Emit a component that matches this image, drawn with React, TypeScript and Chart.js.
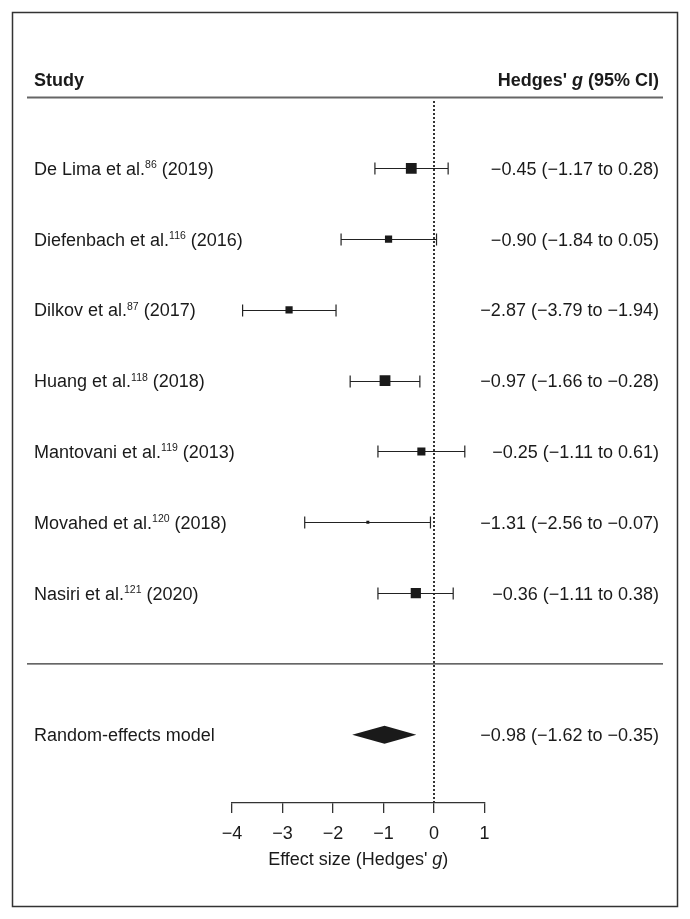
import React, { useEffect, useRef } from "react";
import { Chart, registerables } from "chart.js";

Chart.register(...registerables);

// ---------- data ----------
const studyAuthors = [
  "De Lima et al.",
  "Diefenbach et al.",
  "Dilkov et al.",
  "Huang et al.",
  "Mantovani et al.",
  "Movahed et al.",
  "Nasiri et al.",
];
const studyRefs = ["86", "116", "87", "118", "119", "120", "121"];
const studyYears = ["2019", "2016", "2017", "2018", "2013", "2018", "2020"];
const effectSizes = [-0.45, -0.9, -2.87, -0.97, -0.25, -1.31, -0.36];
const ciLower = [-1.17, -1.84, -3.79, -1.66, -1.11, -2.56, -1.11];
const ciUpper = [0.28, 0.05, -1.94, -0.28, 0.61, -0.07, 0.38];
const studyWeights = [18, 12, 12, 18, 13.5, 5, 17];

const pooledLabel = "Random-effects model";
const pooledEstimate = [-0.98];
const pooledLower = [-1.62];
const pooledUpper = [-0.35];

const xTickMin = -4;
const xTickMax = 1;
const xTickStep = 1;

// ---------- helpers ----------
const FONT = '"Liberation Sans", Arial, Helvetica, sans-serif';
const INK = "#1a1a1a";
const fmt = (v: number) => (v < 0 ? "\u2212" + Math.abs(v).toFixed(2) : v.toFixed(2));
const ciText = (g: number, lo: number, hi: number) => `${fmt(g)} (${fmt(lo)} to ${fmt(hi)})`;

const ROW_HEADER = -0.25;
const ROW_DIVIDER = 8;
const ROW_POOLED = 9;

const forestPlugin = {
  id: "forest",
  beforeDatasetsDraw(chart: any) {
    const { ctx, scales, chartArea } = chart;
    const x = scales.x;
    const y = scales.y;
    ctx.save();
    // outer frame
    ctx.strokeStyle = "#333";
    ctx.lineWidth = 1.5;
    ctx.strokeRect(12.5, 12.5, 665, 894);

    // header rule
    ctx.strokeStyle = "#666";
    ctx.lineWidth = 2;
    ctx.beginPath();
    ctx.moveTo(27, y.getPixelForValue(0));
    ctx.lineTo(663, y.getPixelForValue(0));
    ctx.stroke();

    // divider above pooled
    ctx.strokeStyle = "#333";
    ctx.lineWidth = 1.3;
    ctx.beginPath();
    ctx.moveTo(27, y.getPixelForValue(ROW_DIVIDER));
    ctx.lineTo(663, y.getPixelForValue(ROW_DIVIDER));
    ctx.stroke();

    // zero line (dotted)
    const x0 = Math.round(x.getPixelForValue(0));
    ctx.strokeStyle = "#333";
    ctx.lineWidth = 2;
    ctx.setLineDash([2, 2]);
    ctx.beginPath();
    ctx.moveTo(x0, Math.round(y.getPixelForValue(0)) + 3);
    ctx.lineTo(x0, chartArea.bottom);
    ctx.stroke();
    ctx.setLineDash([]);

    // CI whiskers
    ctx.strokeStyle = "#222";
    ctx.lineWidth = 1.2;
    effectSizes.forEach((_, i) => {
      const py = Math.round(y.getPixelForValue(i + 1)) + 0.5;
      const xl = x.getPixelForValue(ciLower[i]);
      const xr = x.getPixelForValue(ciUpper[i]);
      ctx.beginPath();
      ctx.moveTo(xl, py);
      ctx.lineTo(xr, py);
      ctx.moveTo(xl, py - 6);
      ctx.lineTo(xl, py + 6);
      ctx.moveTo(xr, py - 6);
      ctx.lineTo(xr, py + 6);
      ctx.stroke();
    });

    // pooled diamond
    const py = y.getPixelForValue(ROW_POOLED);
    ctx.fillStyle = INK;
    ctx.beginPath();
    ctx.moveTo(x.getPixelForValue(pooledLower[0]), py);
    ctx.lineTo(x.getPixelForValue(pooledEstimate[0]), py - 9);
    ctx.lineTo(x.getPixelForValue(pooledUpper[0]), py);
    ctx.lineTo(x.getPixelForValue(pooledEstimate[0]), py + 9);
    ctx.closePath();
    ctx.fill();
    ctx.restore();
  },
  afterDatasetsDraw(chart: any) {
    const { ctx, scales, chartArea } = chart;
    const y = scales.y;
    const leftX = 34;
    const rightX = 659;
    ctx.save();
    ctx.fillStyle = INK;
    ctx.textBaseline = "alphabetic";

    // header
    const hy = y.getPixelForValue(ROW_HEADER) + 6.5;
    ctx.font = `bold 18px ${FONT}`;
    ctx.textAlign = "left";
    ctx.fillText("Study", leftX, hy);
    const p1 = "Hedges' ";
    const p2 = "g";
    const p3 = " (95% CI)";
    ctx.font = `bold 18px ${FONT}`;
    const w1 = ctx.measureText(p1).width;
    const w3 = ctx.measureText(p3).width;
    ctx.font = `italic bold 18px ${FONT}`;
    const w2 = ctx.measureText(p2).width;
    let hx = rightX - (w1 + w2 + w3);
    ctx.font = `bold 18px ${FONT}`;
    ctx.fillText(p1, hx, hy);
    hx += w1;
    ctx.font = `italic bold 18px ${FONT}`;
    ctx.fillText(p2, hx, hy);
    hx += w2;
    ctx.font = `bold 18px ${FONT}`;
    ctx.fillText(p3, hx, hy);

    // study rows
    studyAuthors.forEach((name, i) => {
      const by = y.getPixelForValue(i + 1) + 6.5;
      let tx = leftX;
      ctx.textAlign = "left";
      ctx.font = `18px ${FONT}`;
      ctx.fillText(name, tx, by);
      tx += ctx.measureText(name).width;
      ctx.font = `10.5px ${FONT}`;
      ctx.fillText(studyRefs[i], tx, by - 6.5);
      tx += ctx.measureText(studyRefs[i]).width;
      ctx.font = `18px ${FONT}`;
      ctx.fillText(` (${studyYears[i]})`, tx, by);
      ctx.textAlign = "right";
      ctx.fillText(ciText(effectSizes[i], ciLower[i], ciUpper[i]), rightX, by);
    });

    // pooled row
    const pby = y.getPixelForValue(ROW_POOLED) + 6.5;
    ctx.font = `18px ${FONT}`;
    ctx.textAlign = "left";
    ctx.fillText(pooledLabel, leftX, pby);
    ctx.textAlign = "right";
    ctx.fillText(ciText(pooledEstimate[0], pooledLower[0], pooledUpper[0]), rightX, pby);

    // axis title with italic g
    const t1 = "Effect size (Hedges' ";
    const t2 = "g";
    const t3 = ")";
    ctx.font = `18px ${FONT}`;
    const a1 = ctx.measureText(t1).width;
    const a3 = ctx.measureText(t3).width;
    ctx.font = `italic 18px ${FONT}`;
    const a2 = ctx.measureText(t2).width;
    const cx = (chartArea.left + chartArea.right) / 2;
    let ax = cx - (a1 + a2 + a3) / 2;
    const ay = chartArea.bottom + 62;
    ctx.textAlign = "left";
    ctx.font = `18px ${FONT}`;
    ctx.fillText(t1, ax, ay);
    ax += a1;
    ctx.font = `italic 18px ${FONT}`;
    ctx.fillText(t2, ax, ay);
    ax += a2;
    ctx.font = `18px ${FONT}`;
    ctx.fillText(t3, ax, ay);
    ctx.restore();
  },
};

export default function App() {
  const canvasRef = useRef<HTMLCanvasElement | null>(null);

  useEffect(() => {
    if (!canvasRef.current) return;
    const chart = new Chart(canvasRef.current, {
      type: "scatter",
      data: {
        datasets: [
          {
            label: "Studies",
            data: effectSizes.map((g, i) => ({ x: g, y: i + 1 })),
            pointStyle: "rect",
            pointRadius: studyWeights.map((w) => (w * 0.6) / Math.SQRT2),
            pointHoverRadius: studyWeights.map((w) => (w * 0.6) / Math.SQRT2),
            backgroundColor: INK,
            borderColor: INK,
            borderWidth: 0,
            showLine: false,
          },
        ],
      },
      options: {
        responsive: false,
        animation: false,
        devicePixelRatio: 1,
        layout: {
          padding: { left: 232, right: 205.5, top: 97.5, bottom: 56 },
        },
        plugins: {
          legend: { display: false },
          tooltip: { enabled: false },
        },
        scales: {
          x: {
            type: "linear",
            position: "bottom",
            min: xTickMin,
            max: xTickMax,
            afterFit: (scale: any) => {
              scale.height = 60;
            },
            ticks: {
              stepSize: xTickStep,
              color: INK,
              padding: 10,
              font: { family: FONT, size: 18 },
              callback: (v: any) => (Number(v) < 0 ? "\u2212" + Math.abs(Number(v)) : String(v)),
            },
            grid: {
              drawOnChartArea: false,
              drawTicks: true,
              tickLength: 10,
              color: "#333",
              lineWidth: 1.3,
            },
            border: { display: true, color: "#333", width: 1.3 },
            title: { display: false },
          },
          y: {
            type: "linear",
            display: false,
            reverse: true,
            min: 0,
            max: 9.965,
          },
        },
      },
      plugins: [forestPlugin],
    });
    return () => chart.destroy();
  }, []);

  return (
    <div style={{ position: "absolute", left: 0, top: 0, width: 690, height: 919, background: "#fff" }}>
      <canvas ref={canvasRef} width={690} height={919} style={{ display: "block", width: 690, height: 919 }} />
    </div>
  );
}
